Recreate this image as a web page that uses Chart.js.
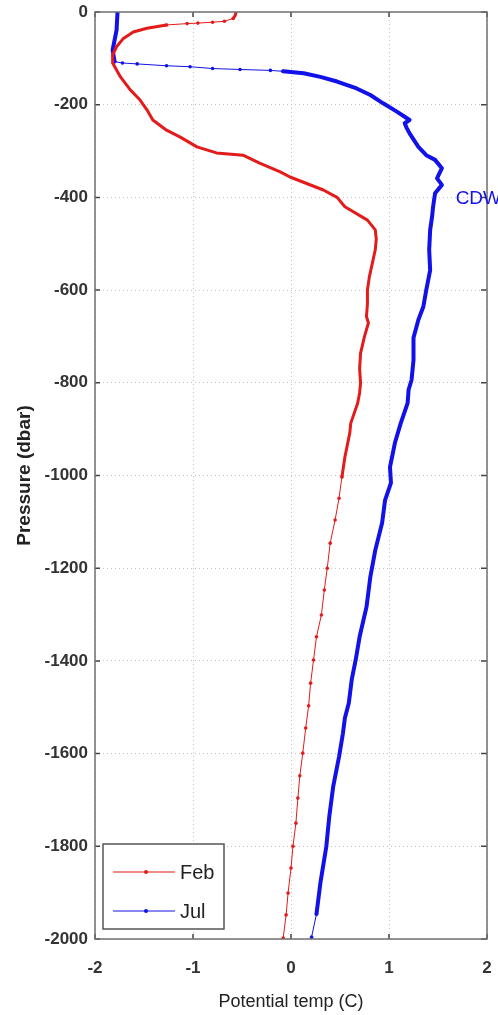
<!DOCTYPE html>
<html>
<head>
<meta charset="utf-8">
<script src="https://cdn.jsdelivr.net/npm/chart.js@4.4.1/dist/chart.umd.min.js"></script>
<style>
html, body { margin: 0; padding: 0; background: #fff; overflow: hidden; }
#wrap { width: 498px; height: 1015px; position: relative; }
</style>
</head>
<body>
<div id="wrap"><canvas id="profile"></canvas></div>
<script>
// axis ticks
const xTicks = [-2, -1, 0, 1, 2]
const yTicks = [0, -200, -400, -600, -800, -1000, -1200, -1400, -1600, -1800, -2000]

// February profile (pressure in dbar, potential temp in C)
const febPressure = [0, -8, -14, -20, -22, -24, -25, -28, -35, -43, -57, -75, -93, -110, -140, -168, -190, -211, -233, -255, -270, -291, -304, -309, -326, -345, -356, -384, -400, -420, -449, -470, -490, -513, -542, -571, -600, -630, -657, -671, -700, -736, -770, -800, -822, -844, -887, -908, -960, -1003,
  -1049, -1096, -1146, -1200, -1247, -1301, -1348, -1398, -1448, -1497, -1545, -1599, -1648, -1696, -1750, -1800, -1847, -1901, -1948, -1998]
const febTemp = [-0.56, -0.57, -0.59, -0.68, -0.80, -0.95, -1.06, -1.27, -1.47, -1.61, -1.71, -1.78, -1.82, -1.82, -1.74, -1.64, -1.54, -1.47, -1.41, -1.27, -1.13, -0.96, -0.76, -0.49, -0.32, -0.11, -0.01, 0.33, 0.47, 0.55, 0.78, 0.86, 0.87, 0.86, 0.83, 0.80, 0.78, 0.78, 0.77, 0.79, 0.75, 0.71, 0.70, 0.71, 0.70, 0.68, 0.61, 0.60, 0.55, 0.52,
  0.49, 0.45, 0.40, 0.37, 0.34, 0.31, 0.26, 0.23, 0.20, 0.18, 0.15, 0.12, 0.09, 0.07, 0.05, 0.02, 0.00, -0.03, -0.05, -0.08]

// July profile
const julPressure = [0, -39, -82, -107, -110, -112, -116, -118, -122, -124, -126, -128, -132, -140, -150, -165, -179, -197, -215, -226, -233, -240, -250, -262, -291, -309, -319, -337, -359, -373, -391, -420, -441, -470, -513, -557, -600, -636, -664, -703, -751, -794, -815, -844, -887, -930, -982, -1016,
  -1053, -1102, -1161, -1218, -1284, -1348, -1398, -1440, -1491, -1523, -1556, -1607, -1672, -1737, -1801, -1879, -1946, -1996]
const julTemp = [-1.77, -1.78, -1.82, -1.80, -1.72, -1.57, -1.27, -1.03, -0.80, -0.52, -0.21, -0.08, 0.13, 0.30, 0.47, 0.67, 0.81, 0.94, 1.08, 1.16, 1.21, 1.16, 1.18, 1.21, 1.30, 1.38, 1.47, 1.54, 1.49, 1.54, 1.47, 1.45, 1.44, 1.42, 1.41, 1.42, 1.38, 1.35, 1.30, 1.25, 1.25, 1.23, 1.20, 1.19, 1.12, 1.06, 1.01, 1.02,
  0.96, 0.93, 0.86, 0.81, 0.77, 0.70, 0.66, 0.62, 0.59, 0.55, 0.53, 0.49, 0.43, 0.39, 0.36, 0.30, 0.26, 0.21]

const RED = "#e31b1b"
const BLUE = "#1212e8"

// pressure ranges where the casts were sampled coarsely (thin line + markers)
const febSparse = [[-32, -14], [-2000, -1000]]
const julSparse = [[-129, -107], [-2000, -1940]]

function inRanges(p, ranges) {
    return ranges.some(r => p >= r[0] && p <= r[1])
}

function makeSet(label, temps, pres, color, sparse, thick) {
    return {
        label: label,
        data: temps.map((t, i) => ({ x: t, y: pres[i] })),
        showLine: true,
        borderColor: color,
        backgroundColor: color,
        borderWidth: thick,
        borderJoinStyle: "round",
        borderCapStyle: "round",
        pointStyle: "circle",
        pointRadius: c => inRanges(c.raw.y, sparse) ? 1.8 : 0,
        pointBorderWidth: 0,
        segment: {
            borderWidth: c => (inRanges(c.p0.parsed.y, sparse) && inRanges(c.p1.parsed.y, sparse)) ? 1 : thick
        }
    }
}

const frame = {
    id: "frame",
    afterDraw(chart) {
        const { ctx, chartArea: a, scales } = chart
        ctx.save()
        // inward tick marks
        ctx.strokeStyle = "#444"
        ctx.lineWidth = 1.5
        ctx.beginPath()
        xTicks.forEach(v => {
            const x = scales.x.getPixelForValue(v)
            ctx.moveTo(x, a.bottom); ctx.lineTo(x, a.bottom - 5)
            ctx.moveTo(x, a.top); ctx.lineTo(x, a.top + 5)
        })
        yTicks.forEach(v => {
            const y = scales.y.getPixelForValue(v)
            ctx.moveTo(a.left, y); ctx.lineTo(a.left + 5, y)
            ctx.moveTo(a.right, y); ctx.lineTo(a.right - 6, y)
        })
        ctx.stroke()
        // box
        ctx.strokeStyle = "#707070"
        ctx.lineWidth = 1.5
        ctx.strokeRect(a.left, a.top, a.right - a.left, a.bottom - a.top)

        // legend box, lower left
        const x0 = a.left + 8, y0 = a.bottom - 95
        ctx.fillStyle = "#fff"
        ctx.fillRect(x0, y0, 121, 85)
        ctx.strokeStyle = "#555"
        ctx.lineWidth = 1.5
        ctx.strokeRect(x0, y0, 121, 85)
        ctx.font = "20px 'Liberation Sans', Arial, sans-serif"
        ctx.textBaseline = "middle"
        chart.data.datasets.forEach((ds, i) => {
            const y = y0 + 28 + i * 39
            ctx.strokeStyle = ds.borderColor
            ctx.lineWidth = 1.2
            ctx.beginPath()
            ctx.moveTo(x0 + 10, y); ctx.lineTo(x0 + 72, y)
            ctx.stroke()
            ctx.fillStyle = ds.borderColor
            ctx.beginPath()
            ctx.arc(x0 + 43, y, 2, 0, Math.PI * 2)
            ctx.fill()
            ctx.fillStyle = "#222"
            ctx.fillText(ds.label, x0 + 77, y + 1)
        })

        // water mass label
        ctx.fillStyle = BLUE
        ctx.font = "19px 'Liberation Sans', Arial, sans-serif"
        ctx.fillText("CDW", scales.x.getPixelForValue(1.68), scales.y.getPixelForValue(-400) + 1)
        ctx.restore()
    }
}

const tickFont = { family: "'Liberation Sans', Arial, sans-serif", size: 17, weight: "bold" }
const gridOpts = { color: "#c4c4c4", lineWidth: 1, drawTicks: false }

new Chart(document.getElementById("profile"), {
    type: "scatter",
    data: {
        datasets: [
            makeSet("Feb", febTemp, febPressure, RED, febSparse, 3),
            makeSet("Jul", julTemp, julPressure, BLUE, julSparse, 4)
        ]
    },
    options: {
        responsive: true,
        maintainAspectRatio: false,
        animation: false,
        events: [],
        layout: { padding: { top: 12, right: 11, left: 0, bottom: 0 } },
        plugins: { legend: { display: false }, tooltip: { enabled: false } },
        scales: {
            x: {
                type: "linear",
                min: -2, max: 2,
                afterBuildTicks: s => { s.ticks = xTicks.map(v => ({ value: v })) },
                afterFit: s => { s.height = 76; s.paddingLeft = 0; s.paddingRight = 0 },
                grid: gridOpts,
                border: { display: false, dash: [1, 3] },
                ticks: { color: "#333", font: tickFont, padding: 19, callback: v => String(v) },
                title: { display: true, text: "Potential temp (C)", color: "#222",
                    font: { family: "'Liberation Sans', Arial, sans-serif", size: 18 }, padding: { top: 0, bottom: 2 } }
            },
            y: {
                type: "linear",
                min: -2000, max: 0,
                afterBuildTicks: s => { s.ticks = yTicks.map(v => ({ value: v })) },
                afterFit: s => { s.width = 95; s.paddingTop = 0; s.paddingBottom = 0 },
                grid: gridOpts,
                border: { display: false, dash: [1, 3] },
                ticks: { color: "#333", font: tickFont, padding: 7, callback: v => String(v) },
                title: { display: true, text: "Pressure (dbar)", color: "#222",
                    font: { family: "'Liberation Sans', Arial, sans-serif", size: 19, weight: "bold" }, padding: { top: 13, bottom: 0 } }
            }
        }
    },
    plugins: [frame]
})
</script>
</body>
</html>
